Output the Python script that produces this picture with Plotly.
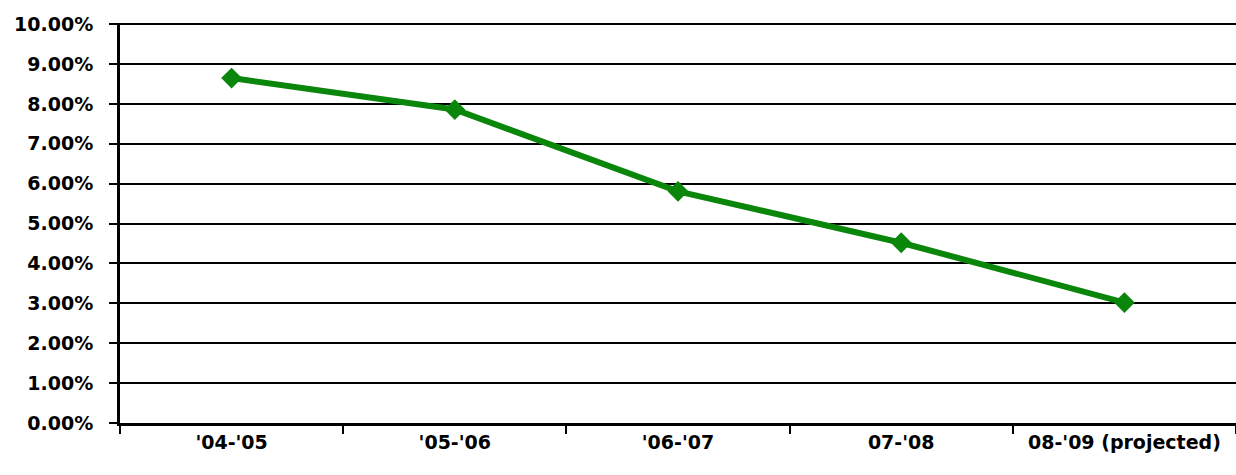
import plotly.graph_objects as go

categories = ["'04-'05", "'05-'06", "'06-'07", "07-'08", "08-'09 (projected)"]
rates = [8.65, 7.86, 5.81, 4.52, 3.02]
y_ticks = [0, 1, 2, 3, 4, 5, 6, 7, 8, 9, 10]
y_tick_labels = [f"{v:.2f}%" for v in y_ticks]

FONT = dict(family="DejaVu Sans", size=19, color="black", weight="bold")

fig = go.Figure()
fig.add_trace(go.Scatter(
    x=categories, y=rates, mode="lines+markers",
    line=dict(color="#0a860a", width=6),
    marker=dict(symbol="diamond", size=16, color="#0a860a"),
    showlegend=False,
))

fig.update_layout(
    width=1236, height=475,
    margin=dict(l=120, r=0, t=23, b=52),
    paper_bgcolor="white", plot_bgcolor="white",
    font=FONT,
    xaxis=dict(
        type="category", range=[-0.5, 4.5],
        showgrid=False, showline=True, linecolor="black", linewidth=3, zeroline=False,
        ticks="outside", tickson="boundaries", ticklen=8, tickwidth=2, tickcolor="black",
        tickfont=FONT, ticklabelstandoff=0,
    ),
    yaxis=dict(
        range=[0, 10.03], tickvals=y_ticks, ticktext=y_tick_labels,
        showgrid=True, gridcolor="black", gridwidth=2,
        showline=True, linecolor="black", linewidth=3,
        zeroline=False,
        ticks="outside", ticklen=8, tickwidth=2, tickcolor="black",
        tickfont=FONT, ticklabelstandoff=12,
    ),
)

fig.write_html(
    "out.html",
    config={"displayModeBar": False},
    post_script="document.body.style.margin='0';document.body.style.overflow='hidden';",
)
